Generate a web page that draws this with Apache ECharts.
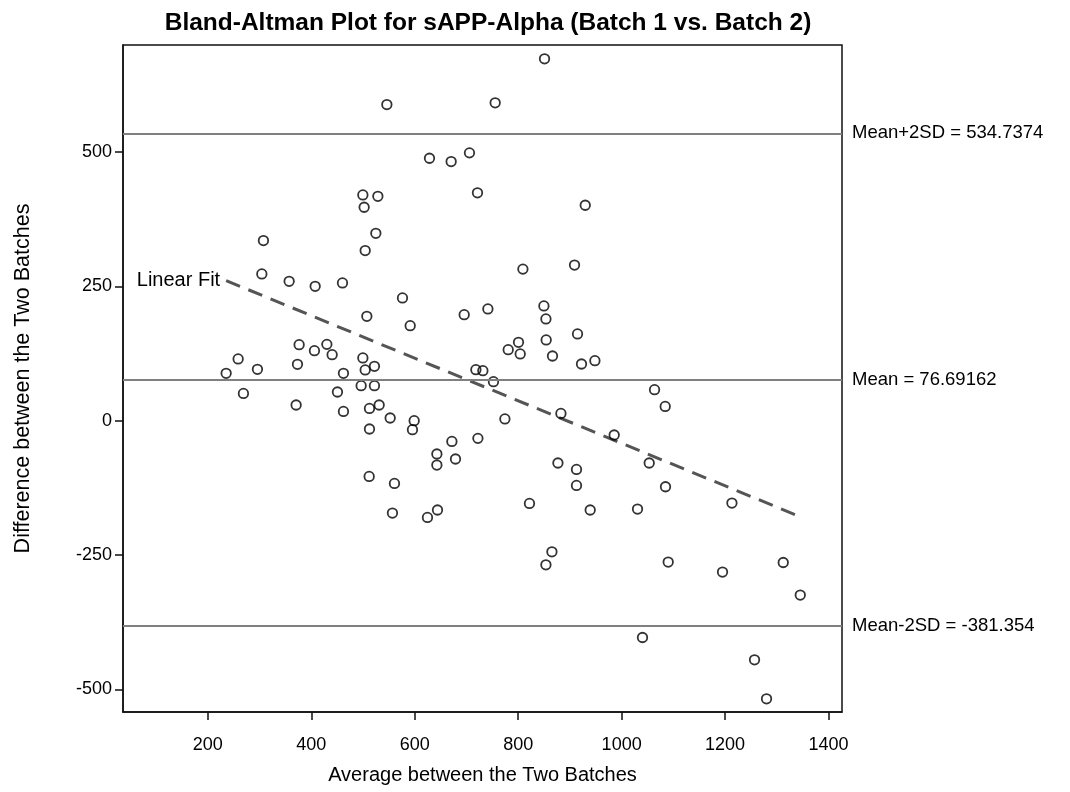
<!DOCTYPE html>
<html><head><meta charset="utf-8">
<script src="https://cdn.jsdelivr.net/npm/echarts@6/dist/echarts.min.js"></script>
<style>html,body{margin:0;padding:0;background:#fff}#c{width:1070px;height:792px}</style>
</head><body><div id="c"></div>
<script>
const titleText = 'Bland-Altman Plot for sAPP-Alpha (Batch 1 vs. Batch 2)';
const xName = 'Average between the Two Batches';
const yName = 'Difference between the Two Batches';
const avgValues = [850.9,546.1,755.5,628.5,670.4,705.8,499.7,502.2,528.7,721.3,929.6,524.8,504.2,307.5,304.4,357.2,407.5,460.3,809.1,908.9,
  576.3,507.4,591.2,695.6,741.4,849.7,853.6,854.1,914.7,780.7,800.6,803.9,866.3,922.4,948.3,376.5,406.1,430.1,440.3,258.6,
  295.9,235.4,373.3,462.2,499.7,504.2,522.1,718.2,731.7,752.2,268.8,450.6,496.4,522.1,370.7,462.2,512.5,531.2,552.5,598.9,
  595.6,512.5,774.3,882.6,671.8,722.1,642.8,642.8,678.8,876.8,912.7,912.7,511.9,560.8,1063.6,1084.2,985.6,1053.3,1084.8,556.9,
  624.6,644.0,821.8,939.2,865.2,853.6,1030.7,1213.2,1090.0,1195.0,1312.4,1345.3,1040.3,1256.9,1280.1];
const diffValues = [673.3,588.2,591.4,488.3,482.1,498.3,420.1,397.1,417.5,423.9,400.8,348.7,316.5,335.1,273.1,259.3,250.0,256.3,282.0,289.5,
  228.4,194.2,176.8,197.3,207.9,213.5,189.3,150.2,161.4,132.2,145.8,124.2,120.4,105.5,111.7,141.5,130.3,142.0,122.9,114.9,
  95.5,88.1,104.8,88.1,116.7,94.4,101.1,94.9,93.1,72.6,50.8,53.4,65.2,65.2,29.2,17.3,22.9,29.2,5.0,0.0,
  -16.8,-15.5,3.2,13.6,-38.5,-32.9,-62.0,-82.5,-71.3,-78.7,-90.7,-120.4,-103.7,-116.7,57.7,26.6,-26.6,-78.7,-122.9,-171.8,
  -180.0,-166.2,-153.9,-166.2,-243.9,-268.1,-164.4,-153.2,-263.0,-281.6,-263.8,-324.5,-403.4,-444.9,-517.5];
const xTicks = [200, 400, 600, 800, 1000, 1200, 1400];
const yTicks = [-500, -250, 0, 250, 500];
const meanDiff = 76.69162;
const upperLimit = 534.7374;
const lowerLimit = -381.354;
const refLabels = ['Mean+2SD = 534.7374', 'Mean = 76.69162', 'Mean-2SD = -381.354'];
const fitX = [235.4, 1345.3];
const fitY = [260.6, -178.7];
const fitLabel = 'Linear Fit';

const FONT = '"Liberation Sans", Arial, sans-serif';
const chart = echarts.init(document.getElementById('c'), null, {renderer: 'canvas'});
const points = avgValues.map((x, i) => [x, diffValues[i]]);
const refVals = [upperLimit, meanDiff, lowerLimit];
const plain = v => String(v);

chart.setOption({
  animation: false,
  backgroundColor: '#fff',
  textStyle: {fontFamily: FONT, color: '#000'},
  title: {
    text: titleText, left: 483, textAlign: 'center', top: 6,
    textStyle: {fontFamily: FONT, fontWeight: 'bold', fontSize: 24.5, color: '#000'}
  },
  grid: {left: 123, right: 228, top: 45, bottom: 80, show: true, borderColor: '#111', borderWidth: 1.5, backgroundColor: 'transparent'},
  xAxis: {
    type: 'value', min: 36, max: 1426,
    name: xName, nameLocation: 'middle', nameGap: 53,
    nameTextStyle: {fontFamily: FONT, fontSize: 20, color: '#000'},
    axisLine: {show: true, onZero: false, lineStyle: {color: '#111', width: 1.5}},
    axisTick: {show: true, length: 8, lineStyle: {color: '#111', width: 1.5}, customValues: xTicks},
    axisLabel: {fontFamily: FONT, fontSize: 18, color: '#000', margin: 24, customValues: xTicks, formatter: plain},
    splitLine: {show: false}
  },
  yAxis: {
    type: 'value', min: -542, max: 699,
    name: yName, nameLocation: 'middle', nameGap: 89,
    nameTextStyle: {fontFamily: FONT, fontSize: 21.5, color: '#000'},
    axisLine: {show: true, onZero: false, lineStyle: {color: '#111', width: 1.5}},
    axisTick: {show: true, length: 8, lineStyle: {color: '#111', width: 1.5}, customValues: yTicks},
    axisLabel: {fontFamily: FONT, fontSize: 18, color: '#000', margin: 11, customValues: yTicks, formatter: plain},
    splitLine: {show: false}
  },
  series: [
    {
      type: 'scatter', data: points, symbol: 'circle', symbolSize: 9.5,
      itemStyle: {color: 'rgba(0,0,0,0)', borderColor: '#000', borderWidth: 1.8},
      markLine: {
        silent: true, symbol: 'none',
        lineStyle: {color: '#808080', width: 2, type: 'solid'},
        label: {show: true, position: 'end', distance: 10, fontFamily: FONT, fontSize: 18.5, color: '#000'},
        data: refVals.map((v, i) => ({yAxis: v, label: {formatter: refLabels[i]}}))
      },
      z: 3
    },
    {
      type: 'line', data: [
        {value: [fitX[0], fitY[0]], label: {show: true, position: 'left', distance: 6, formatter: fitLabel, fontFamily: FONT, fontSize: 20, color: '#000'}},
        [fitX[1], fitY[1]]
      ],
      symbol: 'circle', symbolSize: 0, showSymbol: true,
      itemStyle: {color: 'rgba(0,0,0,0)'},
      lineStyle: {color: '#555', width: 3, type: [15, 9]},
      z: 2
    }
  ]
});
</script>
</body></html>
